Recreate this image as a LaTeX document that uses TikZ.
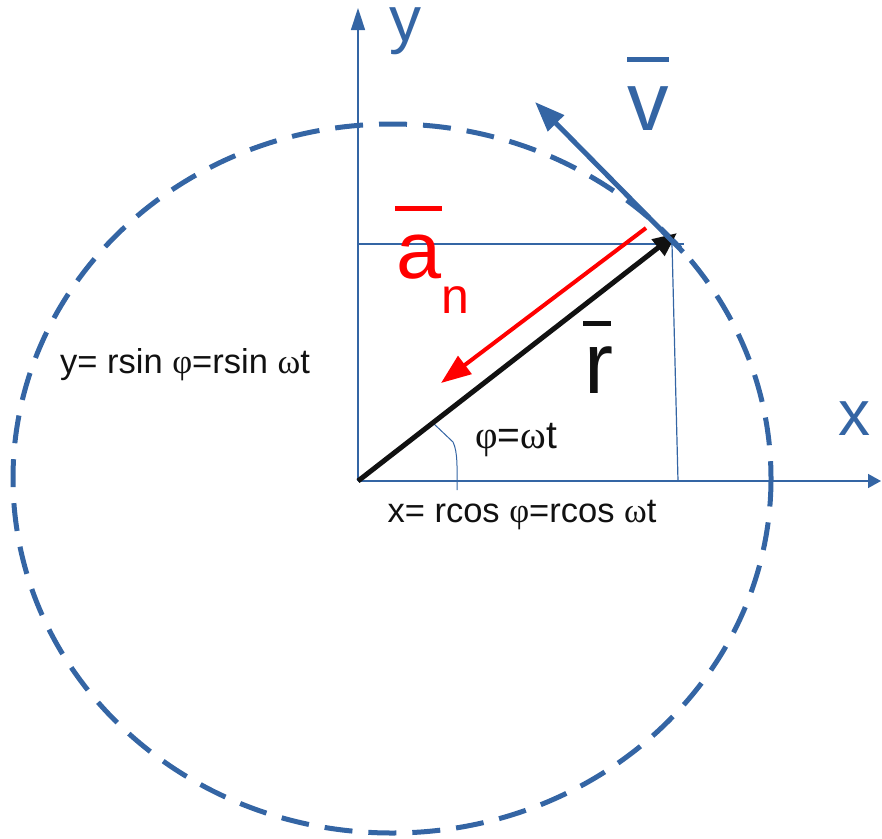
\documentclass[tikz,border=0pt]{standalone}
\usepackage{fontspec}
\setmainfont{Liberation Sans}
\newfontfamily\grk{Liberation Serif}
\usetikzlibrary{arrows.meta}
\definecolor{lblue}{HTML}{3465A4}
\definecolor{lred}{HTML}{FF0000}
\definecolor{lblack}{HTML}{111111}
\tikzset{
  axisline/.style={draw=lblue, line width=1.5pt},
  thinline/.style={draw=lblue, line width=1.2pt},
  circ/.style={draw=lblue, line width=5pt, dash pattern=on 28pt off 16pt},
  lbl/.style={inner sep=0pt, anchor=base},
  barline/.style={line width=5pt},
}
\begin{document}
\begin{tikzpicture}[x=1pt,y=-1pt]
\useasboundingbox (0,0) rectangle (882,838);
% dashed circle
\draw[circ] (392,478.5) ellipse [x radius=379, y radius=354.5];
% points
\coordinate (O) at (358,481);
\coordinate (ytip) at (358,8);
\coordinate (xtip) at (881,481);
\coordinate (P) at (672,244);
\coordinate (hl) at (358,244);
\coordinate (hr) at (684,244);
\coordinate (vb) at (678,481);
\coordinate (rtip) at (677,233);
\coordinate (vs) at (683,252);
\coordinate (vtip) at (535,102);
\coordinate (as) at (646,228);
\coordinate (atip) at (441,383);
% axes
\draw[axisline, -{Triangle[length=22pt,width=14pt]}] (O) -- (ytip);
\draw[axisline, -{Triangle[length=13pt,width=14pt]}] (O) -- (xtip);
% projection lines
\draw[thinline] (hl) -- (hr);
\draw[thinline] (P) -- (vb);
% angle mark
\draw[draw=lblue, line width=1pt] (433,423) -- (453,442) .. controls (458,452) and (457,470) .. (457,490);
% vectors
\draw[lblack, line width=5pt, -{Triangle[length=24pt,width=20pt]}] (O) -- (rtip);
\draw[lred, line width=4pt, -{Triangle[length=30pt,width=22pt]}] (as) -- (atip);
\draw[lblue, line width=5pt, -{Triangle[length=30pt,width=22pt]}] (vs) -- (vtip);
% labels
\node[lbl, text=lblue, text height=0.55em, font=\fontsize{64}{64}\selectfont] (ylab) at (405,41) {y};
\node[lbl, text=lblue, font=\fontsize{64}{64}\selectfont] (xlab) at (854,435) {x};
\node[lbl, text=lblue, font=\fontsize{83}{83}\selectfont] (vlab) at (648,130) {v};
\draw[lblue, barline] (627,59) -- (669,59);
\node[lbl, text=lred, font=\fontsize{81}{81}\selectfont] (alab) at (419,278) {a};
\node[lbl, text=lred, font=\fontsize{50}{50}\selectfont] (nlab) at (455,313) {n};
\draw[lred, barline] (395,208) -- (442,208);
\node[lbl, text=lblack, font=\fontsize{87}{87}\selectfont] (rlab) at (599,393) {r};
\draw[lblack, barline] (583,323) -- (611,323);
\node[lbl, text=lblack, font=\fontsize{34.5}{34.5}\selectfont] (ysin) at (185,373) {y= rsin {\grk φ}=rsin {\grk ω}t};
\node[lbl, text=lblack, font=\fontsize{39}{39}\selectfont] (phi) at (516,448) {{\grk φ}={\grk ω}t};
\node[lbl, text=lblack, font=\fontsize{34.5}{34.5}\selectfont] (xcos) at (522,522) {x= rcos {\grk φ}=rcos {\grk ω}t};
\end{tikzpicture}
\end{document}
